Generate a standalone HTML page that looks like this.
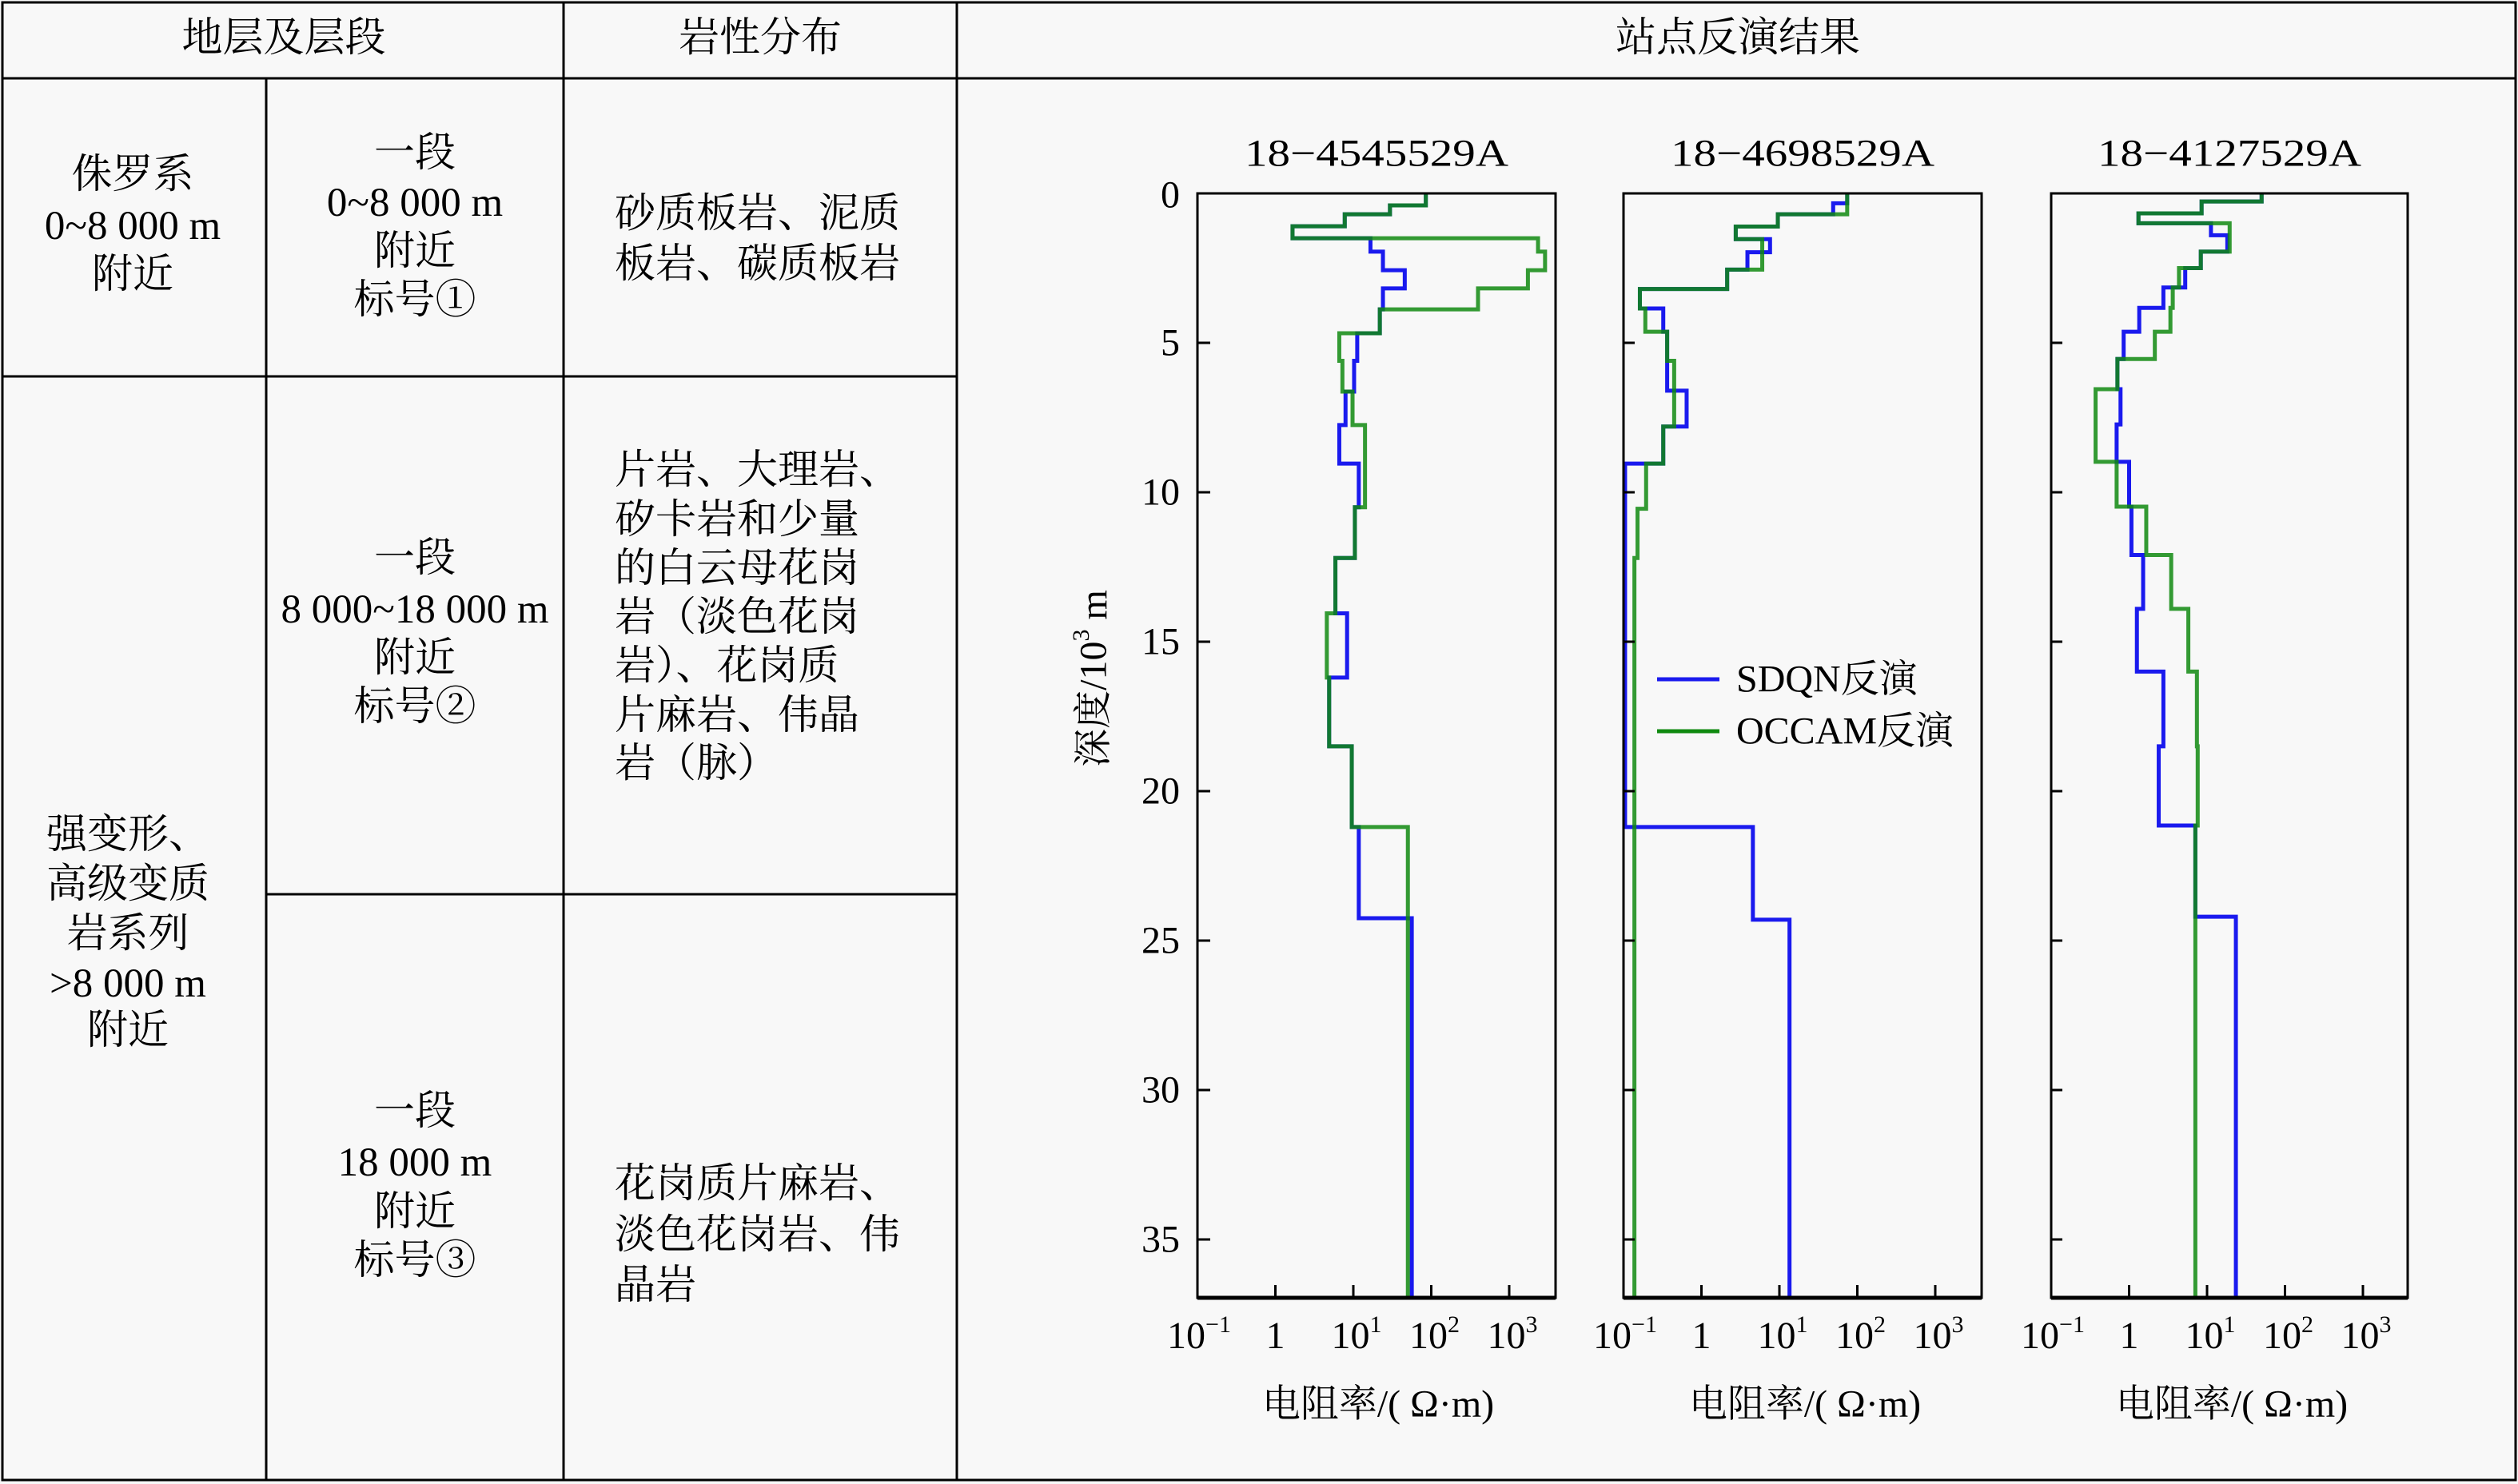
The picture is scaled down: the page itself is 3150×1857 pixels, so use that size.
<!DOCTYPE html>
<html><head><meta charset="utf-8"><style>
html,body{margin:0;padding:0;background:#f8f8f8;}
svg{display:block;}
text{font-family:"Liberation Serif","Noto Serif CJK SC","Noto Sans CJK SC",serif;fill:#000;}
.t{font-size:48px;}
.tb{font-size:51px;}
.c{text-anchor:middle;dominant-baseline:central;}
.l{dominant-baseline:central;}
</style></head><body>
<svg width="3150" height="1857" viewBox="0 0 3150 1857" xmlns="http://www.w3.org/2000/svg">
<rect width="3150" height="1857" fill="#f8f8f8"/>
<g stroke="#000" stroke-width="3" fill="none">
<rect x="3" y="3" width="3144" height="1849"/>
<line x1="3" y1="98" x2="3147" y2="98"/>
<line x1="333" y1="98" x2="333" y2="1852"/>
<line x1="705" y1="3" x2="705" y2="1852"/>
<line x1="1197" y1="3" x2="1197" y2="1852"/>
<line x1="3" y1="471" x2="1197" y2="471"/>
<line x1="333" y1="1119" x2="1197" y2="1119"/>
</g>
<text class="tb c" x="355" y="48">地层及层段</text>
<text class="tb c" x="951" y="48">岩性分布</text>
<text class="tb c" x="2174" y="48">站点反演结果</text>
<text class="tb c" x="166" y="219">侏罗系</text>
<text class="tb c" x="166" y="283">0~8 000 m</text>
<text class="tb c" x="166" y="344">附近</text>
<text class="tb c" x="160" y="1045">强变形、</text>
<text class="tb c" x="160" y="1107">高级变质</text>
<text class="tb c" x="160" y="1169">岩系列</text>
<text class="tb c" x="160" y="1231">&gt;8 000 m</text>
<text class="tb c" x="160" y="1290">附近</text>
<text class="tb c" x="519" y="192">一段</text>
<text class="tb c" x="519" y="254">0~8 000 m</text>
<text class="tb c" x="519" y="315">附近</text>
<text class="tb c" x="519" y="376">标号①</text>
<text class="tb c" x="519" y="699">一段</text>
<text class="tb c" x="519" y="763">8 000~18 000 m</text>
<text class="tb c" x="519" y="824">附近</text>
<text class="tb c" x="519" y="885">标号②</text>
<text class="tb c" x="519" y="1391">一段</text>
<text class="tb c" x="519" y="1455">18 000 m</text>
<text class="tb c" x="519" y="1517">附近</text>
<text class="tb c" x="519" y="1578">标号③</text>
<text class="tb l" x="769" y="268">砂质板岩、泥质</text>
<text class="tb l" x="769" y="331">板岩、碳质板岩</text>
<text class="tb l" x="769" y="589">片岩、大理岩、</text>
<text class="tb l" x="769" y="651">矽卡岩和少量</text>
<text class="tb l" x="769" y="712">的白云母花岗</text>
<text class="tb l" x="769" y="773">岩（淡色花岗</text>
<text class="tb l" x="769" y="834">岩）、花岗质</text>
<text class="tb l" x="769" y="896">片麻岩、伟晶</text>
<text class="tb l" x="769" y="956">岩（脉）</text>
<text class="tb l" x="769" y="1482">花岗质片麻岩、</text>
<text class="tb l" x="769" y="1546">淡色花岗岩、伟</text>
<text class="tb l" x="769" y="1609">晶岩</text>

<defs>
<clipPath id="c1"><rect x="1498" y="242" width="448" height="1382"/></clipPath>
<clipPath id="c2"><rect x="2031" y="242" width="448" height="1382"/></clipPath>
<clipPath id="c3"><rect x="2566" y="242" width="446" height="1382"/></clipPath>
</defs>

<text class="t c" x="1722" y="192" font-size="50" textLength="330" lengthAdjust="spacingAndGlyphs">18−4545529A</text>
<text class="t c" x="2255" y="192" font-size="50" textLength="330" lengthAdjust="spacingAndGlyphs">18−4698529A</text>
<text class="t c" x="2789" y="192" font-size="50" textLength="330" lengthAdjust="spacingAndGlyphs">18−4127529A</text>

<g class="t" text-anchor="end" dominant-baseline="central">
<text x="1476" y="244">0</text>
<text x="1476" y="429">5</text>
<text x="1476" y="616">10</text>
<text x="1476" y="803">15</text>
<text x="1476" y="990">20</text>
<text x="1476" y="1177">25</text>
<text x="1476" y="1364">30</text>
<text x="1476" y="1551">35</text>
</g>
<text class="t c" transform="translate(1368,849) rotate(-90)" x="0" y="0">深度/10<tspan font-size="30" dy="-16">3</tspan><tspan dy="16"> m</tspan></text>

<g clip-path="url(#c1)">
<g transform="translate(1595.5,242) scale(97.5,37.4)" fill="none">
<path vector-effect="non-scaling-stroke" stroke="#1a1aee" stroke-width="5" d="M1.93 0V0.4H1.47V0.7H0.89V1.1H0.22V1.5H1.22V1.95H1.38V2.57H1.66V3.18H1.38V3.88H1.34V4.68H1.05V5.6H1.01V6.63H0.9V7.75H0.82V9.04H1.07V10.5H1.02V12.2H0.77V14.05H0.92V16.2H0.69V18.5H0.98V21.2H1.07V24.25H1.75V37"/>
<path vector-effect="non-scaling-stroke" stroke="#108a10" stroke-opacity="0.85" stroke-width="5" d="M1.93 0V0.4H1.47V0.7H0.89V1.1H0.22V1.5H3.37V1.95H3.46V2.57H3.24V3.18H2.6V3.88H1.34V4.68H0.82V5.6H0.86V6.63H0.99V7.75H1.15V10.5H1.02V12.2H0.77V14.05H0.66V16.2H0.69V18.5H0.98V21.2H1.7V37"/>
</g></g>
<g clip-path="url(#c2)">
<g transform="translate(2128.5,242) scale(97.5,37.4)" fill="none">
<path vector-effect="non-scaling-stroke" stroke="#1a1aee" stroke-width="5" d="M1.87 0V0.33H1.69V0.7H0.98V1.11H0.44V1.53H0.88V1.97H0.59V2.55H0.33V3.2H-0.79V3.85H-0.49V4.63H-0.44V6.6H-0.19V7.8H-0.49V9.04H-0.98V21.2H0.66V24.3H1.13V37"/>
<path vector-effect="non-scaling-stroke" stroke="#108a10" stroke-opacity="0.85" stroke-width="5" d="M1.87 0V0.7H0.98V1.11H0.44V1.53H0.78V2.55H0.33V3.2H-0.79V3.85H-0.72V4.63H-0.44V5.6H-0.35V7.8H-0.49V9.04H-0.71V10.55H-0.82V12.2H-0.86V37"/>
</g></g>
<g clip-path="url(#c3)">
<g transform="translate(2663.5,242) scale(97.5,37.4)" fill="none">
<path vector-effect="non-scaling-stroke" stroke="#1a1aee" stroke-width="5" d="M1.7 0V0.27H0.93V0.67H0.12V1H1.05V1.4H1.26V1.95H0.92V2.5H0.72V3.15H0.44V3.83H0.13V4.63H-0.07V5.54H-0.15V6.55H-0.11V7.73H-0.16V8.98H0V10.48H0.03V12.1H0.18V13.9H0.1V16H0.44V18.5H0.38V21.15H0.85V24.2H1.37V37"/>
<path vector-effect="non-scaling-stroke" stroke="#108a10" stroke-opacity="0.85" stroke-width="5" d="M1.7 0V0.27H0.93V0.67H0.12V1H1.29V1.95H0.92V2.5H0.64V3.15H0.56V3.83H0.53V4.63H0.33V5.54H-0.15V6.55H-0.43V8.98H-0.16V10.48H0.22V12.1H0.54V13.9H0.76V16H0.87V18.5H0.88V21.15H0.85V37"/>
</g></g>

<g stroke="#000" fill="none">
<rect x="1498" y="242" width="448" height="1382" stroke-width="3"/>
<rect x="2031" y="242" width="448" height="1382" stroke-width="3"/>
<rect x="2566" y="242" width="446" height="1382" stroke-width="3"/>
<line x1="1498" y1="1624" x2="1946" y2="1624" stroke-width="5"/>
<line x1="2031" y1="1624" x2="2479" y2="1624" stroke-width="5"/>
<line x1="2566" y1="1624" x2="3012" y2="1624" stroke-width="5"/>
<g stroke-width="3">
<path d="M1498 429h16M1498 616h16M1498 803h16M1498 990h16M1498 1177h16M1498 1364h16M1498 1551h16"/>
<path d="M2031 429h14M2031 616h14M2031 803h14M2031 990h14M2031 1177h14M2031 1364h14M2031 1551h14"/>
<path d="M2566 429h14M2566 616h14M2566 803h14M2566 990h14M2566 1177h14M2566 1364h14M2566 1551h14"/>
<path d="M1595.5 1624v-16M1693 1624v-16M1790.5 1624v-16M1888 1624v-16"/>
<path d="M2128.5 1624v-16M2226 1624v-16M2323.5 1624v-16M2421 1624v-16"/>
<path d="M2663.5 1624v-16M2761 1624v-16M2858.5 1624v-16M2956 1624v-16"/>
</g></g>

<g class="t" text-anchor="middle">
<text x="1500" y="1687">10<tspan font-size="30" dy="-20">−1</tspan></text>
<text x="1595.5" y="1687">1</text>
<text x="1697" y="1687">10<tspan font-size="30" dy="-20">1</tspan></text>
<text x="1794.5" y="1687">10<tspan font-size="30" dy="-20">2</tspan></text>
<text x="1892" y="1687">10<tspan font-size="30" dy="-20">3</tspan></text>
<text x="2033" y="1687">10<tspan font-size="30" dy="-20">−1</tspan></text>
<text x="2128.5" y="1687">1</text>
<text x="2230" y="1687">10<tspan font-size="30" dy="-20">1</tspan></text>
<text x="2327.5" y="1687">10<tspan font-size="30" dy="-20">2</tspan></text>
<text x="2425" y="1687">10<tspan font-size="30" dy="-20">3</tspan></text>
<text x="2568" y="1687">10<tspan font-size="30" dy="-20">−1</tspan></text>
<text x="2663.5" y="1687">1</text>
<text x="2765" y="1687">10<tspan font-size="30" dy="-20">1</tspan></text>
<text x="2862.5" y="1687">10<tspan font-size="30" dy="-20">2</tspan></text>
<text x="2960" y="1687">10<tspan font-size="30" dy="-20">3</tspan></text>
</g>
<text class="t c" x="1724" y="1757">电阻率/( Ω·m)</text>
<text class="t c" x="2258" y="1757">电阻率/( Ω·m)</text>
<text class="t c" x="2792" y="1757">电阻率/( Ω·m)</text>

<line x1="2073" y1="850" x2="2151" y2="850" stroke="#1a1aee" stroke-width="5"/>
<line x1="2073" y1="915" x2="2151" y2="915" stroke="#108a10" stroke-width="5"/>
<text class="t l" x="2172" y="850">SDQN反演</text>
<text class="t l" x="2172" y="915">OCCAM反演</text>
</svg>
</body></html>
